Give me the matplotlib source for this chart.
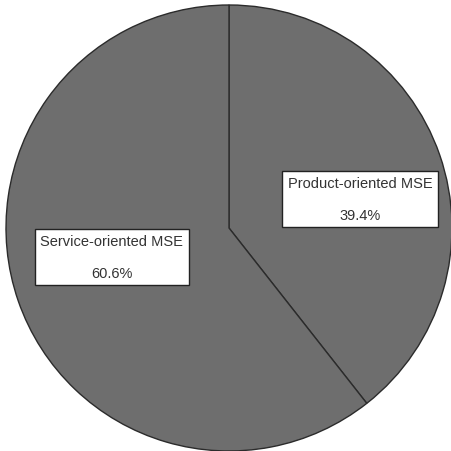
import numpy as np
import matplotlib.pyplot as plt

# --- data ---
labels = ['Product-oriented MSE', 'Service-oriented MSE']
shares = [39.4, 60.6]

plt.rcParams['font.family'] = ['Liberation Sans', 'DejaVu Sans']

W, H = 451, 452
cx, cy, r = 229, 229, 223   # pie centre / radius in pixels

fig = plt.figure(figsize=(W / 100, H / 100), dpi=100)
ax = fig.add_axes([0, 0, 1, 1])

wedges, _ = ax.pie(shares, startangle=90, counterclock=False, radius=1,
                   colors=['#6e6e6e', '#6e6e6e'],
                   wedgeprops=dict(edgecolor='#2b2b2b', linewidth=1.0))

ax.set_aspect('auto')
ax.set_xlim(-cx / r, (W - cx) / r)
ax.set_ylim(-(H - cy) / r, cy / r)
ax.axis('off')

# label boxes
label_pos = [(0.587, 0.13), (-0.525, -0.13)]
for (x, y), name, v in zip(label_pos, labels, shares):
    ax.text(x, y, f'{name}\n{v:.1f}%', ha='center', va='center',
            fontsize=10.5, color='#333333', linespacing=2.55,
            bbox=dict(boxstyle='square,pad=0.4', fc='white',
                      ec='#222222', lw=1.0))

fig.savefig('out.png', dpi=100, facecolor='white')
